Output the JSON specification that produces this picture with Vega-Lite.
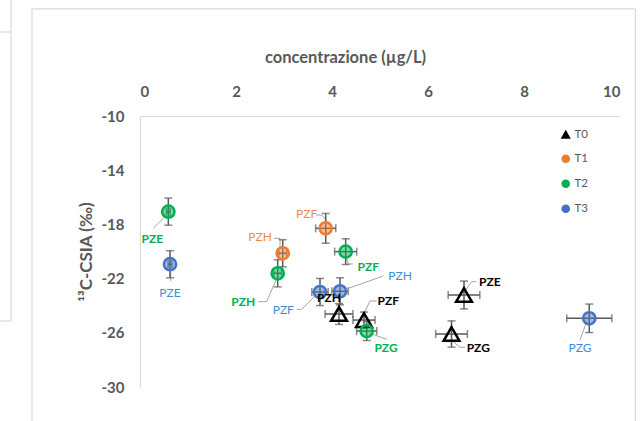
{
  "$schema": "https://vega.github.io/schema/vega-lite/v6.json",
  "width": 480,
  "height": 271,
  "autosize": "none",
  "padding": {"left": 140, "top": 116, "right": 20, "bottom": 34},
  "background": "white",
  "config": {"view": {"stroke": null}, "font": "Lato"},
  "datasets": {
    "pts": [
      {"serie": "T0", "pz": "PZH", "x": 4.146, "y": -24.61, "xe": 0.29, "ye": 0.77},
      {"serie": "T0", "pz": "PZF", "x": 4.667, "y": -25.06, "xe": 0.23, "ye": 0.59},
      {"serie": "T0", "pz": "PZE", "x": 6.75, "y": -23.21, "xe": 0.33, "ye": 1.03},
      {"serie": "T0", "pz": "PZG", "x": 6.49, "y": -26.09, "xe": 0.33, "ye": 0.97},
      {"serie": "T1", "pz": "PZH", "x": 2.973, "y": -20.13, "xe": 0.08, "ye": 1.0},
      {"serie": "T1", "pz": "PZF", "x": 3.869, "y": -18.29, "xe": 0.21, "ye": 1.1},
      {"serie": "T2", "pz": "PZE", "x": 0.59, "y": -17.06, "xe": 0.04, "ye": 1.0},
      {"serie": "T2", "pz": "PZH", "x": 2.869, "y": -21.61, "xe": 0.08, "ye": 1.0},
      {"serie": "T2", "pz": "PZF", "x": 4.285, "y": -20.01, "xe": 0.23, "ye": 0.95},
      {"serie": "T2", "pz": "PZG", "x": 4.723, "y": -25.87, "xe": 0.21, "ye": 0.7},
      {"serie": "T3", "pz": "PZE", "x": 0.625, "y": -20.94, "xe": 0.04, "ye": 1.0},
      {"serie": "T3", "pz": "PZF", "x": 3.75, "y": -22.99, "xe": 0.17, "ye": 1.0},
      {"serie": "T3", "pz": "PZH", "x": 4.167, "y": -22.94, "xe": 0.17, "ye": 1.0},
      {"serie": "T3", "pz": "PZG", "x": 9.36, "y": -24.93, "xe": 0.47, "ye": 1.05}
    ],
    "labels": [
      {"serie": "T2", "pz": "PZE", "x": 0.256, "y": -19.08},
      {"serie": "T3", "pz": "PZE", "x": 0.625, "y": -23.08},
      {"serie": "T1", "pz": "PZF", "x": 3.473, "y": -17.23},
      {"serie": "T1", "pz": "PZH", "x": 2.5, "y": -18.95},
      {"serie": "T2", "pz": "PZF", "x": 4.756, "y": -21.12},
      {"serie": "T2", "pz": "PZH", "x": 2.152, "y": -23.7},
      {"serie": "T3", "pz": "PZF", "x": 2.985, "y": -24.32},
      {"serie": "T0", "pz": "PZH", "x": 3.9375, "y": -23.45},
      {"serie": "T3", "pz": "PZH", "x": 5.417, "y": -21.81},
      {"serie": "T0", "pz": "PZF", "x": 5.173, "y": -23.65},
      {"serie": "T2", "pz": "PZG", "x": 5.125, "y": -27.14},
      {"serie": "T0", "pz": "PZE", "x": 7.29, "y": -22.27},
      {"serie": "T0", "pz": "PZG", "x": 7.048, "y": -27.1},
      {"serie": "T3", "pz": "PZG", "x": 9.167, "y": -27.14}
    ],
    "leaders": [
      {"x": 0.521, "y": -17.43, "x2": 0.277, "y2": -18.29},
      {"x": 0.64, "y": -21.55, "x2": 0.64, "y2": -22.2},
      {"x": 3.667, "y": -17.31, "x2": 3.79, "y2": -17.31},
      {"x": 3.79, "y": -17.31, "x2": 3.875, "y2": -17.68},
      {"x": 2.792, "y": -19.03, "x2": 2.917, "y2": -19.03},
      {"x": 2.917, "y": -19.03, "x2": 2.917, "y2": -19.65},
      {"x": 4.306, "y": -20.5, "x2": 4.34, "y2": -20.92},
      {"x": 4.34, "y": -20.92, "x2": 4.44, "y2": -20.92},
      {"x": 2.848, "y": -21.98, "x2": 2.64, "y2": -23.7},
      {"x": 2.64, "y": -23.7, "x2": 2.465, "y2": -23.7},
      {"x": 3.667, "y": -23.21, "x2": 3.369, "y2": -24.27},
      {"x": 3.369, "y": -24.27, "x2": 3.265, "y2": -24.27},
      {"x": 4.34, "y": -22.72, "x2": 5.069, "y2": -21.81},
      {"x": 4.6875, "y": -24.44, "x2": 4.79, "y2": -23.65},
      {"x": 4.79, "y": -23.65, "x2": 4.93, "y2": -23.65},
      {"x": 6.735, "y": -23.09, "x2": 6.91, "y2": -22.23},
      {"x": 6.91, "y": -22.23, "x2": 7.01, "y2": -22.23},
      {"x": 6.527, "y": -26.66, "x2": 6.667, "y2": -27.07},
      {"x": 6.667, "y": -27.07, "x2": 6.77, "y2": -27.07},
      {"x": 4.79, "y": -26.04, "x2": 5.14, "y2": -26.48},
      {"x": 9.306, "y": -25.18, "x2": 9.167, "y2": -26.53}
    ],
    "frame": [
      {"x": -2.25, "y": -2.1, "x2": -2.25, "y2": -33},
      {"x": -2.25, "y": -2.1, "x2": 10.32, "y2": -2.1},
      {"x": 10.32, "y": -2.1, "x2": 10.32, "y2": -33},
      {"x": -2.6875, "y": -1.0, "x2": -2.6875, "y2": -25.13},
      {"x": -3.2, "y": -3.8, "x2": -2.6875, "y2": -3.8},
      {"x": -3.2, "y": -25.13, "x2": -2.6875, "y2": -25.13}
    ]
  },
  "encoding": {
    "x": {"field": "x", "type": "quantitative", "scale": {"domain": [0, 10], "nice": false, "zero": false},
      "axis": {"orient": "top", "values": [0, 2, 4, 6, 8, 10], "grid": false, "ticks": false, "tickSize": 0,
        "domainColor": "#D9D9D9", "domainWidth": 1.2, "labelFont": "Lato", "labelFontSize": 15, "labelFontWeight": "bold",
        "labelColor": "#595959", "labelPadding": 17, "title": "concentrazione (µg/L)", "titleFont": "Lato",
        "titleFontSize": 16.5, "titleFontWeight": "bold", "titleColor": "#595959", "titlePadding": 19, "titleX": 205}},
    "y": {"field": "y", "type": "quantitative", "scale": {"domain": [-30, -10], "nice": false, "zero": false},
      "axis": {"values": [-30, -26, -22, -18, -14, -10], "grid": false, "ticks": false, "tickSize": 0,
        "labelExpr": "replace(datum.label, '\u2212', '-')",
        "domainColor": "#D9D9D9", "domainWidth": 1.2, "labelFont": "Lato", "labelFontSize": 15, "labelFontWeight": "bold",
        "labelColor": "#595959", "labelPadding": 16, "title": "¹³C-CSIA (‰)", "titleFont": "Lato",
        "titleFontSize": 17, "titleFontWeight": "bold", "titleColor": "#595959", "titlePadding": 6}}
  },
  "layer": [
    {
      "data": {"name": "frame"},
      "mark": {"type": "rule", "color": "#D9D9D9", "strokeWidth": 1.2},
      "encoding": {"x2": {"field": "x2"}, "y2": {"field": "y2"}}
    },
    {
      "data": {"name": "leaders"},
      "mark": {"type": "rule", "color": "#A6A6A6", "strokeWidth": 1},
      "encoding": {"x2": {"field": "x2"}, "y2": {"field": "y2"}}
    },
    {
      "data": {"name": "pts"},
      "mark": {"type": "errorbar", "color": "#595959", "thickness": 1.5, "ticks": {"size": 8, "thickness": 1.5, "color": "#595959"}},
      "encoding": {"yError": {"field": "ye"}}
    },
    {
      "data": {"name": "pts"},
      "mark": {"type": "errorbar", "color": "#595959", "thickness": 1.5, "ticks": {"size": 8, "thickness": 1.5, "color": "#595959"}},
      "encoding": {"xError": {"field": "xe"}}
    },
    {
      "data": {"name": "pts"},
      "transform": [{"filter": "datum.serie === 'T0'"}],
      "mark": {"type": "point", "filled": true, "strokeWidth": 2.5, "opacity": 1, "fillOpacity": 0, "size": 250},
      "encoding": {
        "color": {"field": "serie", "type": "nominal",
          "scale": {"domain": ["T0", "T1", "T2", "T3"], "range": ["#000000", "#ED7D31", "#00B050", "#4472C4"]},
          "legend": {"orient": "none", "legendX": 420, "legendY": 13, "title": null, "labelFont": "Lato", "labelFontSize": 11.5,
            "labelColor": "#595959", "symbolSize": 45, "symbolStrokeWidth": 2, "rowPadding": 9, "labelOffset": 3, "symbolOpacity": 1, "symbolFillOpacity": 1}},
        "shape": {"field": "serie", "type": "nominal",
          "scale": {"domain": ["T0", "T1", "T2", "T3"], "range": ["triangle-up", "circle", "circle", "circle"]}},
        "stroke": {"field": "serie", "type": "nominal",
          "scale": {"domain": ["T0", "T1", "T2", "T3"], "range": ["#000000", "#ED7D31", "#00B050", "#4472C4"]}, "legend": null}
      }
    },
    {
      "data": {"name": "pts"},
      "transform": [{"filter": "datum.serie !== 'T0'"}],
      "mark": {"type": "point", "filled": true, "strokeWidth": 2.5, "opacity": 1, "fillOpacity": 0.5, "size": 150},
      "encoding": {
        "color": {"field": "serie", "type": "nominal"},
        "shape": {"field": "serie", "type": "nominal"},
        "stroke": {"field": "serie", "type": "nominal", "legend": null}
      }
    },
    {
      "data": {"name": "labels"},
      "transform": [{"filter": "datum.serie === 'T0' || datum.serie === 'T2'"}],
      "mark": {"type": "text", "font": "Lato", "fontSize": 12, "fontWeight": "bold", "align": "center", "baseline": "middle"},
      "encoding": {
        "text": {"field": "pz"},
        "fill": {"field": "serie", "type": "nominal",
          "scale": {"domain": ["T0", "T1", "T2", "T3"], "range": ["#000000", "#F08A4B", "#00B050", "#3B8ED8"]}, "legend": null}
      }
    },
    {
      "data": {"name": "labels"},
      "transform": [{"filter": "datum.serie === 'T1' || datum.serie === 'T3'"}],
      "mark": {"type": "text", "font": "Lato", "fontSize": 12, "fontWeight": "normal", "align": "center", "baseline": "middle"},
      "encoding": {
        "text": {"field": "pz"},
        "fill": {"field": "serie", "type": "nominal", "legend": null}
      }
    }
  ]
}
